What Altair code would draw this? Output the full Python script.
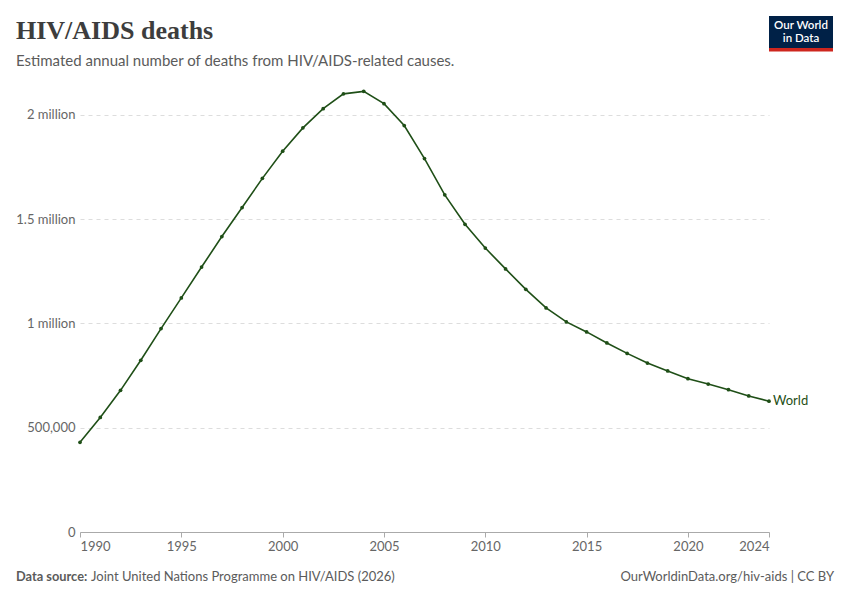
import altair as alt
import pandas as pd

years = list(range(1990, 2025))
deaths = [
    430000, 549000, 679000, 823000, 975000, 1122000, 1270000, 1416000, 1555000, 1695000,
    1825000, 1937000, 2029000, 2100000, 2112000, 2053000, 1948000, 1790000, 1616000, 1475000,
    1361000, 1261000, 1163000, 1074000, 1007000, 959000, 906000, 856000, 810000, 772000,
    735000, 709000, 682000, 652000, 627000,
]
entity = "World"
x_ticks = [1990, 1995, 2000, 2005, 2010, 2015, 2020, 2024]
y_ticks = [0, 500000, 1000000, 1500000, 2000000]

title_text = "HIV/AIDS deaths"
subtitle_text = "Estimated annual number of deaths from HIV/AIDS-related causes."
source_label = "Data source:"
source_text = "Joint United Nations Programme on HIV/AIDS (2026)"
credit_text = "OurWorldinData.org/hiv-aids | CC BY"

df = pd.DataFrame({"year": years, "deaths": deaths, "entity": entity})

GREEN = "#1f4f17"
FONT = "Lato"

x_enc = alt.X(
    "year:Q",
    scale=alt.Scale(domain=[1990, 2024], nice=False, zero=False),
    axis=alt.Axis(
        values=x_ticks, format="d", title=None, grid=False,
        domainColor="#aaaaaa", tickColor="#aaaaaa", tickSize=5,
        labelFont=FONT, labelFontSize=13, labelColor="#666666",
        labelPadding=3, labelFlush=True,
    ),
)
y_enc = alt.Y(
    "deaths:Q",
    scale=alt.Scale(domain=[0, 2200000], nice=False),
    axis=alt.Axis(
        values=y_ticks, title=None, domain=False, ticks=False,
        grid=True, gridColor="#dddddd", gridDash=[4, 4], gridWidth=1,
        labelFont=FONT, labelFontSize=13, labelColor="#666666", labelPadding=5,
        labelExpr="datum.value == 0 ? '0' : datum.value >= 1000000 ? (datum.value/1000000) + ' million' : format(datum.value, ',')",
    ),
)

base = alt.Chart(df)
line = base.mark_line(color=GREEN, strokeWidth=1.6).encode(x=x_enc, y=y_enc)
pts = base.mark_circle(color=GREEN, size=14, opacity=1).encode(x="year:Q", y="deaths:Q")
label = base.transform_filter(alt.datum.year == 2024).mark_text(
    align="left", baseline="middle", dx=4, font=FONT, fontSize=13, color=GREEN
).encode(x="year:Q", y="deaths:Q", text="entity:N")

one = alt.Data(values=[{"a": 1}])

def txt(text, x, y, **kw):
    return alt.Chart(one).mark_text(text=text, font=kw.pop("font", FONT), **kw).encode(
        x=alt.value(x), y=alt.value(y)
    )

title = txt(title_text, -64, -34.5, font="Liberation Serif", fontSize=26, fontWeight="bold",
            color="#3d3d3d", align="left", baseline="alphabetic")
subtitle = txt(subtitle_text, -64, -12.5, fontSize=15, color="#5b5b5b",
               align="left", baseline="middle")
src1 = txt(source_label, -64, 504, fontSize=12.8, color="#5b5b5b", fontWeight="bold",
           align="left", baseline="middle")
src2 = txt(source_text, 11, 504, fontSize=13, color="#5b5b5b", align="left", baseline="middle")
credit = txt(credit_text, 754, 504, fontSize=13, color="#5b5b5b", align="right", baseline="middle")

logo_bg = alt.Chart(one).mark_rect(color="#002147").encode(
    x=alt.value(689), x2=alt.value(753), y=alt.value(-57), y2=alt.value(-25)
)
logo_red = alt.Chart(one).mark_rect(color="#ce261e").encode(
    x=alt.value(689), x2=alt.value(753), y=alt.value(-25), y2=alt.value(-21.5)
)
logo1 = txt("Our World", 721, -47, fontSize=11.5, color="white", fontWeight=600,
            align="center", baseline="middle")
logo2 = txt("in Data", 721, -34.5, fontSize=11.5, color="white", fontWeight=600,
            align="center", baseline="middle")

chart = alt.layer(
    line, pts, label, title, subtitle, src1, src2, credit, logo_bg, logo_red, logo1, logo2
).properties(
    width=689, height=459,
    background="white",
    autosize=alt.AutoSizeParams(type="none"),
    padding={"left": 72, "top": 65, "right": 73, "bottom": 60},
).configure_view(strokeWidth=0)

chart.save("out.html", embed_options={"renderer": "svg", "actions": False})
